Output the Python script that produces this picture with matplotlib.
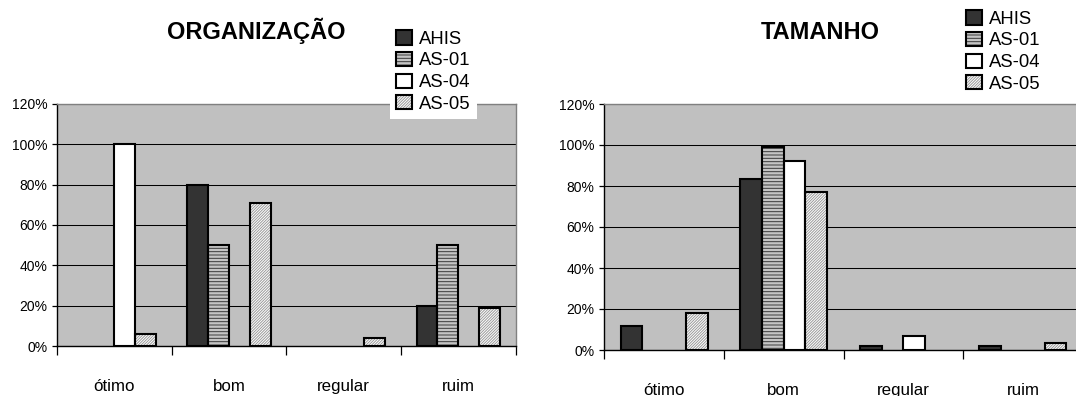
import matplotlib
matplotlib.use("Agg")
import matplotlib.pyplot as plt
from matplotlib.patches import Patch
from matplotlib.ticker import FixedLocator, PercentFormatter
import numpy as np

# ---- data -----------------------------------------------------------------
categories = ["ótimo", "bom", "regular", "ruim"]
series = ["AHIS", "AS-01", "AS-04", "AS-05"]

org_ahis = [0.00, 0.80, 0.00, 0.20]
org_as01 = [0.00, 0.50, 0.00, 0.50]
org_as04 = [1.00, 0.00, 0.00, 0.00]
org_as05 = [0.06, 0.71, 0.04, 0.19]

tam_ahis = [0.115, 0.835, 0.02, 0.02]
tam_as01 = [0.00, 0.99, 0.00, 0.00]
tam_as04 = [0.00, 0.92, 0.07, 0.00]
tam_as05 = [0.18, 0.77, 0.00, 0.035]

# ---- styling --------------------------------------------------------------
W, H = 1076, 396
plt.rcParams["font.family"] = ["Liberation Sans", "DejaVu Sans"]
plt.rcParams["hatch.linewidth"] = 0.7

# (face colour, hatch, hatch colour) for each series
styles = {
    "AHIS": ("#333333", None, "#333333"),
    "AS-01": ("#c4c4c4", "-----", "#3a3a3a"),
    "AS-04": ("#ffffff", None, "#ffffff"),
    "AS-05": ("#ffffff", "/" * 12, "#9a9a9a"),
}

bar_w = 1 / 5.5
x = np.arange(len(categories))


def draw_panel(ax, values):
    ax.set_facecolor("#c0c0c0")
    for i, (name, vals) in enumerate(zip(series, values)):
        face, hatch, hcol = styles[name]
        vals = np.asarray(vals)
        shown = vals > 0
        pos = (x + (i - 1.5) * bar_w)[shown]
        ax.bar(pos, vals[shown], bar_w, color=face, hatch=hatch,
               edgecolor=hcol, linewidth=0, zorder=3)
        ax.bar(pos, vals[shown], bar_w, fill=False, edgecolor="black",
               linewidth=1.5, zorder=4)

    ax.set_xlim(-0.5, len(categories) - 0.5)
    ax.set_ylim(0, 1.2)
    ax.yaxis.set_major_locator(FixedLocator(np.arange(0, 1.21, 0.2)))
    ax.yaxis.set_major_formatter(PercentFormatter(1.0, decimals=0))
    ax.grid(axis="y", color="black", linewidth=0.75)
    ax.set_axisbelow(True)

    # category boundaries carry the tick marks, centres carry the labels
    ax.set_xticks(np.arange(-0.5, len(categories), 1.0))
    ax.set_xticklabels([])
    ax.set_xticks(x, minor=True)
    ax.set_xticklabels(categories, minor=True, fontsize=12.2)
    ax.tick_params(axis="x", which="major", direction="out", length=6.5,
                   width=0.9, color="black")
    ax.tick_params(axis="x", which="minor", length=0, pad=23.5)
    ax.tick_params(axis="y", direction="out", length=3.6, width=0.9,
                   pad=3.5, labelsize=10)

    for side in ("top", "right"):
        ax.spines[side].set_color("#808080")
        ax.spines[side].set_linewidth(1.0)
    for side in ("left", "bottom"):
        ax.spines[side].set_color("black")
        ax.spines[side].set_linewidth(1.0)


def legend_handles():
    handles = []
    for name in series:
        face, hatch, hcol = styles[name]
        fill = Patch(facecolor=face, hatch=hatch, edgecolor=hcol, linewidth=0)
        edge = Patch(fill=False, edgecolor="black", linewidth=1.5)
        handles.append((fill, edge))
    return handles


fig = plt.figure(figsize=(W / 100, H / 100), dpi=100)

ax1 = fig.add_axes([57.2 / W, 50 / H, 458.3 / W, 242 / H])
draw_panel(ax1, [org_ahis, org_as01, org_as04, org_as05])

ax2 = fig.add_axes([604.3 / W, 46 / H, 478.5 / W, 246 / H])
draw_panel(ax2, [tam_ahis, tam_as01, tam_as04, tam_as05])

fig.text(256 / W, 1 - 39.3 / H, "ORGANIZAÇÃO", ha="center", va="baseline",
         fontsize=17, fontweight="bold")
fig.text(820 / W, 1 - 39.3 / H, "TAMANHO", ha="center", va="baseline",
         fontsize=17, fontweight="bold")

leg_kw = dict(loc="upper left", borderaxespad=0, borderpad=0.35,
              handlelength=0.84, handleheight=0.8, handletextpad=0.38,
              labelspacing=0.22, fontsize=13.3, frameon=True, fancybox=False,
              facecolor="white", edgecolor="none", framealpha=1.0)
fig.legend(legend_handles(), series, bbox_to_anchor=(390 / W, 1 - 24 / H),
           **leg_kw)
fig.legend(legend_handles(), series, bbox_to_anchor=(960 / W, 1 - 4 / H),
           **leg_kw)

fig.savefig("out.png", dpi=100)
